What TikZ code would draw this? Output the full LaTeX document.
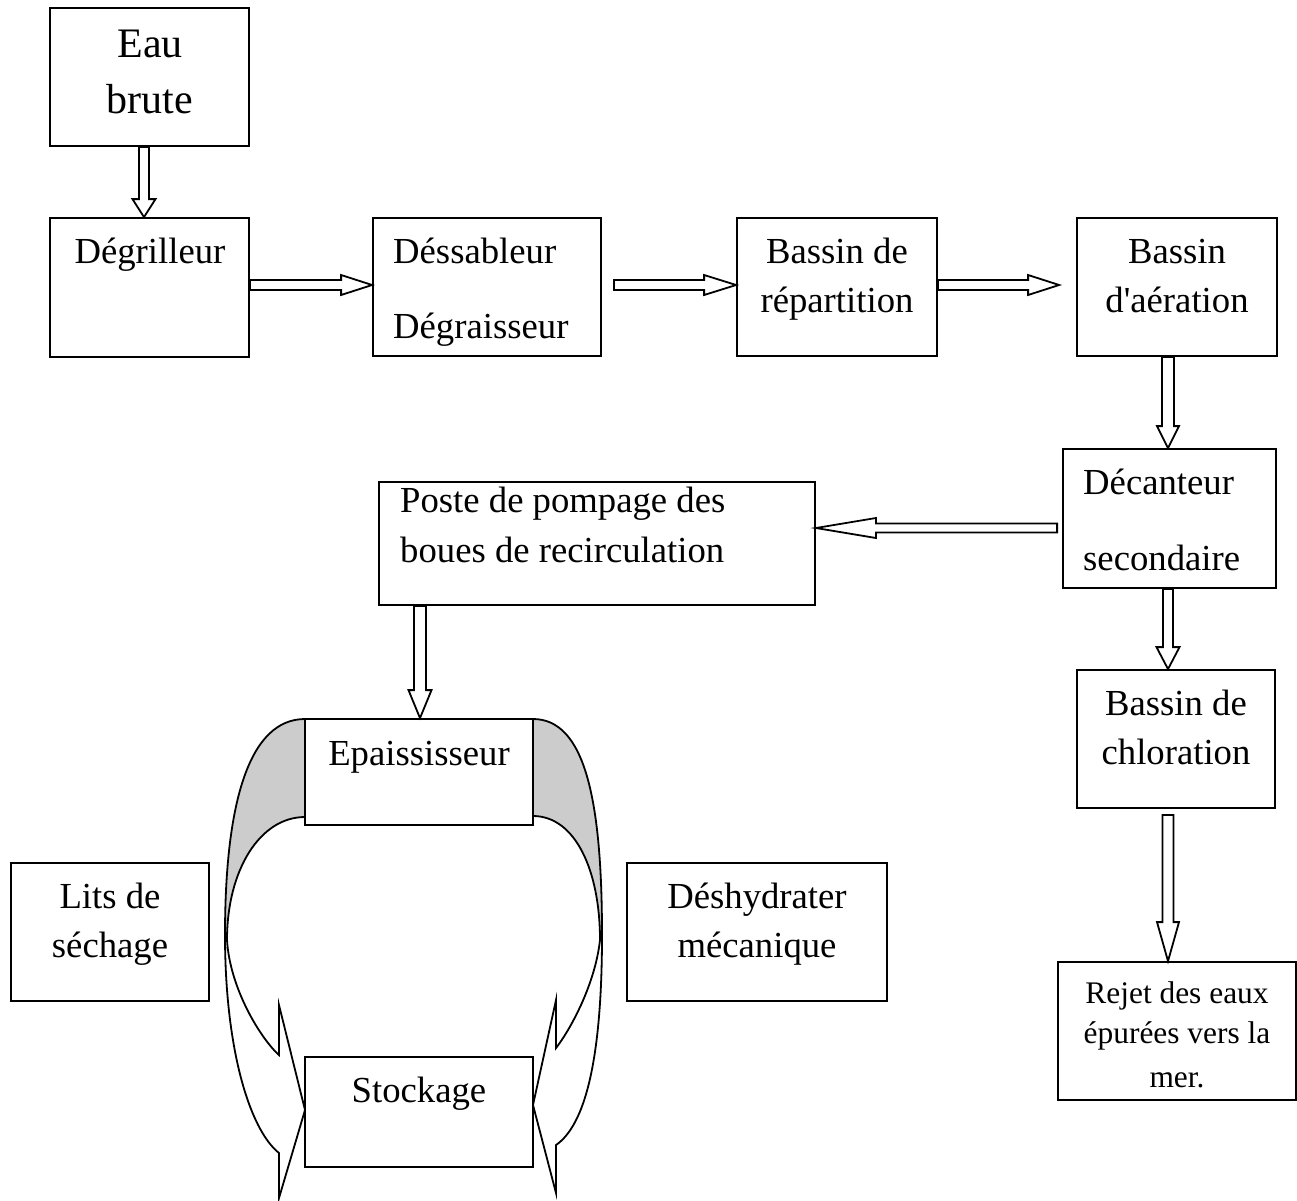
\documentclass[tikz,border=0pt]{standalone}
\usepackage{fontspec}
\setmainfont{Liberation Serif}
\usetikzlibrary{calc}
\definecolor{shadegray}{RGB}{204,204,204}
\tikzset{
  box/.style={draw, line width=1.8pt, fill=white, inner sep=0pt, rectangle},
  txt/.style={inner sep=0pt, anchor=base, font=\fontsize{36.7}{44}\selectfont},
  big/.style={font=\fontsize{42}{50}\selectfont},
  small/.style={font=\fontsize{31.4}{38}\selectfont},
  fatline/.style={draw, line width=1.8pt, fill=white, line join=miter},
  curveline/.style={line width=1.8pt},
}
\newcommand\bx[5]{\node[box, minimum width={((#4)-(#2))*1pt}, minimum height={((#5)-(#3))*1pt}] (#1) at ({((#2)+(#4))/2},{((#3)+(#5))/2}) {};}
\newcommand\fatarrow[5]{%
  \coordinate (fah) at ($(#2)!#5pt!(#1)$);
  \path[fatline] ($(#1)!#3pt!90:(#2)$) -- ($(fah)!#3pt!-90:(#1)$) -- ($(fah)!#4pt!-90:(#1)$) -- (#2) -- ($(fah)!#4pt!90:(#1)$) -- ($(fah)!#3pt!90:(#1)$) -- ($(#1)!#3pt!-90:(#2)$) -- cycle;}
\begin{document}
\begin{tikzpicture}[x=1pt,y=-1pt]
\useasboundingbox[fill=white] (0,0) rectangle (1297,1200);

% curved block arrows (shaded back faces)
\fill[shadegray] (305,719) .. controls (250,719) and (225,800) .. (225,935)
  -- (227,940) .. controls (227,870) and (260,817) .. (305,817) -- cycle;
\fill[shadegray] (533,719) .. controls (585,719) and (602,800) .. (602,935)
  -- (600,940) .. controls (600,870) and (575,816) .. (533,816) -- cycle;
% left curved arrow outline
\draw[curveline, line join=miter] (305,719) .. controls (250,719) and (225,800) .. (225,935)
  .. controls (225,1050) and (250,1130) .. (279,1153)
  -- (279,1198) -- (305,1110) -- (279,1005) -- (279,1055)
  .. controls (262,1040) and (230,990) .. (227,940)
  .. controls (227,870) and (260,817) .. (305,817);
% right curved arrow outline
\draw[curveline, line join=miter] (533,719) .. controls (585,719) and (602,800) .. (602,935)
  .. controls (602,1060) and (585,1125) .. (556,1145)
  -- (556,1193) -- (533,1105) -- (556,1000) -- (556,1048)
  .. controls (570,1030) and (595,985) .. (600,940)
  .. controls (600,870) and (575,816) .. (533,816);

% boxes
\bx{eau}{50}{8}{249}{146}
\bx{degr}{50}{218}{249}{357}
\bx{dess}{373}{218}{601}{356}
\bx{rep}{737}{218}{937}{356}
\bx{aer}{1077}{218}{1277}{356}
\bx{dec}{1063}{449}{1276}{588}
\bx{poste}{379}{482}{815}{605}
\bx{chlor}{1077}{670}{1275}{808}
\bx{rejet}{1058}{962}{1296}{1100}
\bx{epai}{305}{719}{533}{825}
\bx{stock}{305}{1057}{533}{1167}
\bx{lits}{11}{863}{209}{1001}
\bx{desh}{627}{863}{887}{1001}

% connector end points
\coordinate (a1s) at ($(eau.south)+(-5.5,0)$);
\coordinate (a1e) at ($(degr.north)+(-5.5,0)$);
\coordinate (a2s) at ($(degr.east)+(0,-2.5)$);
\coordinate (a2e) at ($(dess.west)+(0,-2)$);
\coordinate (a3s) at ($(dess.east)+(12,-2)$);
\coordinate (a3e) at ($(rep.west)+(0,-2)$);
\coordinate (a4s) at ($(rep.east)+(0,-2)$);
\coordinate (a4e) at ($(aer.west)+(-17,-2)$);
\coordinate (a5s) at ($(aer.south)+(-9,0)$);
\coordinate (a5e) at ($(dec.north)+(-1.5,0)$);
\coordinate (a6s) at ($(dec.west)+(-5,9.5)$);
\coordinate (a6e) at ($(poste.east)+(0,-15.5)$);
\coordinate (a7s) at ($(dec.south)+(-1.5,0)$);
\coordinate (a7e) at ($(chlor.north)+(-8,0)$);
\coordinate (a8s) at ($(chlor.south)+(-8,6)$);
\coordinate (a8e) at ($(rejet.north)+(-9,0)$);
\coordinate (a9s) at ($(poste.south)+(-177,0)$);
\coordinate (a9e) at ($(epai.north)+(1,0)$);

\fatarrow{a1s}{a1e}{5}{11.5}{18}
\fatarrow{a2s}{a2e}{5}{10}{31}
\fatarrow{a3s}{a3e}{5}{10}{32}
\fatarrow{a4s}{a4e}{5}{10}{31}
\fatarrow{a5s}{a5e}{6}{11}{22}
\fatarrow{a6s}{a6e}{4.5}{10}{60}
\fatarrow{a7s}{a7e}{5}{11.5}{22}
\fatarrow{a8s}{a8e}{5.5}{11}{39}
\fatarrow{a9s}{a9e}{6}{11.5}{28}

% texts
\node[txt,big] (t1a) at (150,57) {Eau};
\node[txt,big] (t1b) at (150,113) {brute};
\node[txt] (t2) at (150,263) {Dégrilleur};
\node[txt,anchor=base west] (t3a) at (393,263) {Déssableur};
\node[txt,anchor=base west] (t3b) at (393,338) {Dégraisseur};
\node[txt] (t4a) at (837,263) {Bassin de};
\node[txt] (t4b) at (837,312) {répartition};
\node[txt] (t5a) at (1177,263) {Bassin};
\node[txt] (t5b) at (1177,312) {d\textquotesingle aération};
\node[txt,anchor=base west] (t6a) at (1083,494) {Décanteur};
\node[txt,anchor=base west] (t6b) at (1083,570) {secondaire};
\node[txt,anchor=base west] (t7a) at (400,512) {Poste de pompage des};
\node[txt,anchor=base west] (t7b) at (400,562) {boues de recirculation};
\node[txt] (t8a) at (1176,715) {Bassin de};
\node[txt] (t8b) at (1176,764) {chloration};
\node[txt,small] (t9a) at (1177,1003) {Rejet des eaux};
\node[txt,small] (t9b) at (1177,1043) {épurées vers la};
\node[txt,small] (t9c) at (1177,1087) {mer.};
\node[txt] (t10) at (419,765) {Epaississeur};
\node[txt] (t11) at (419,1102) {Stockage};
\node[txt] (t12a) at (110,908) {Lits de};
\node[txt] (t12b) at (110,957) {séchage};
\node[txt] (t13a) at (757,908) {Déshydrater};
\node[txt] (t13b) at (757,957) {mécanique};
\end{tikzpicture}
\end{document}
